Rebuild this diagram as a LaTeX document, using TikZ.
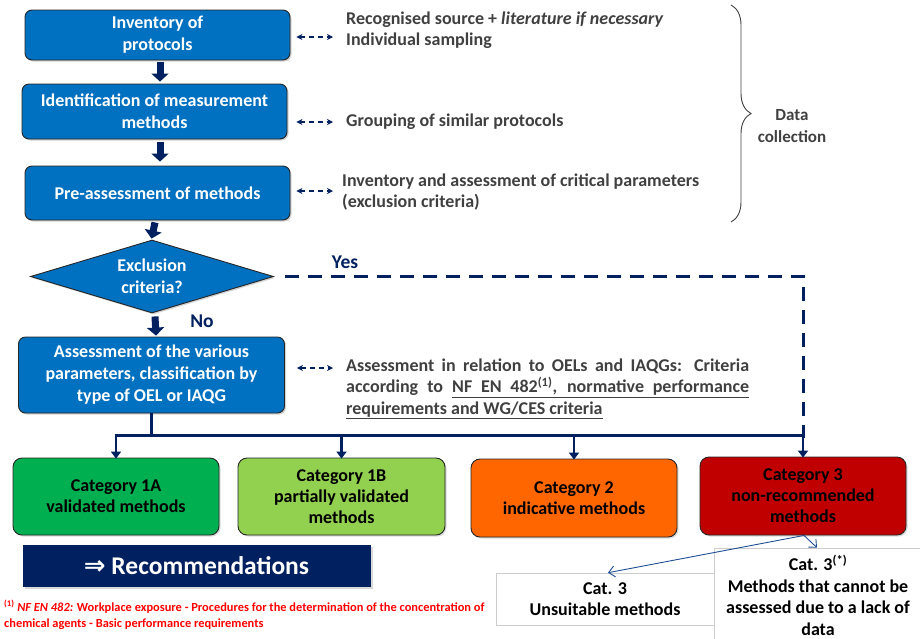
\documentclass[tikz,border=0pt]{standalone}
\usepackage{fontspec}
\setmainfont{Carlito}
\newfontfamily\dejavu{DejaVu Sans}
\usetikzlibrary{arrows.meta,shapes.geometric,decorations.pathreplacing,shadows}
\definecolor{boxblue}{HTML}{0070C0}
\definecolor{navy}{HTML}{002060}
\definecolor{txtgray}{HTML}{404040}
\definecolor{cia}{HTML}{00B050}
\definecolor{cib}{HTML}{92D050}
\definecolor{cii}{HTML}{FF6600}
\definecolor{ciii}{HTML}{C00000}
\definecolor{thinblue}{HTML}{1F4E96}
\definecolor{fnred}{HTML}{FF0000}
\begin{document}
\begin{tikzpicture}[x=1pt,y=-1pt,
  bluebox/.style={draw=black!85, line width=0.9pt, fill=boxblue, rounded corners=7pt,
    text=white, font=\fontsize{18}{22}\selectfont\bfseries, align=center, inner sep=0pt,
    drop shadow={opacity=0.35,shadow xshift=1.5pt,shadow yshift=-1.5pt}},
  catbox/.style={draw=black!85, line width=0.9pt, rounded corners=9pt,
    text=black, font=\fontsize{18}{21}\selectfont\bfseries, align=center, inner sep=0pt,
    drop shadow={opacity=0.3,shadow xshift=1.5pt,shadow yshift=-1.5pt}},
  whitebox/.style={draw=black!20, line width=0.6pt, fill=white, text=black,
    font=\fontsize{18}{21.5}\selectfont\bfseries, align=center, inner sep=0pt},
  sidetext/.style={text=txtgray, font=\fontsize{18}{21.5}\selectfont\bfseries, align=left, inner sep=0pt, anchor=west},
  blockarrow/.style={draw=navy, line width=7pt, -{Triangle[length=8pt,width=17pt]}},
  dasharrow/.style={draw=navy, line width=1.1pt, dash pattern=on 5pt off 4pt,
    {Stealth[length=6pt,width=6pt]}-{Stealth[length=6pt,width=6pt]}},
  busline/.style={draw=navy, line width=3pt},
  busarrow/.style={draw=navy, line width=2.2pt, -{Triangle[length=7pt,width=10pt]}},
  yesline/.style={draw=navy, line width=3pt, dash pattern=on 14pt off 9pt},
  thinarrow/.style={draw=thinblue, line width=0.9pt, -{Straight Barb[length=6pt,width=11pt]}},
  lbl/.style={text=navy, font=\fontsize{19.5}{22}\selectfont\bfseries, inner sep=0pt}
]
\useasboundingbox (0,0) rectangle (920,638);

% main flow boxes
\node[bluebox, minimum width=265pt, minimum height=50pt] (b1) at (157.5,35) {Inventory of\\protocols};
\node[bluebox, minimum width=265pt, minimum height=55pt] (b2) at (154.5,111.5) {Identification of measurement\\methods};
\node[bluebox, minimum width=265pt, minimum height=54pt] (b3) at (157.5,193) {Pre-assessment of methods};
\node[bluebox, shape=diamond, rounded corners=0pt, shape aspect=3.4, minimum width=243pt, minimum height=73pt] (dia) at (152,276.5) {Exclusion\\criteria?};
\node[bluebox, minimum width=266pt, minimum height=76pt] (b4) at (151.5,375) {Assessment of the various\\parameters, classification by\\type of OEL or IAQG};

% block arrows
\draw[blockarrow] ([xshift=2.5pt,yshift=-2pt]b1.south) -- ([xshift=5.5pt,yshift=2pt]b2.north);
\draw[blockarrow] ([xshift=5.5pt,yshift=-3pt]b2.south) -- ([xshift=2.5pt,yshift=4pt]b3.north);
\draw[blockarrow] ([xshift=-2.5pt,yshift=-2pt]b3.south) -- ([yshift=1pt]dia.north -| b4.south);
\draw[blockarrow] ([xshift=3pt,yshift=-3pt]dia.south) -- ([xshift=4.5pt,yshift=1pt]b4.north);

% labels
\node[lbl] (yes) at (345,262) {Yes};
\node[lbl] (no) at (202,321) {No};

% side texts
\node[sidetext] (t1) at (346,30) {Recognised source + \textit{literature if necessary}\\Individual sampling};
\node[sidetext] (t2) at (346,122) {Grouping of similar protocols};
\node[sidetext] (t3) at (342,192) {Inventory and assessment of critical parameters\\(exclusion criteria)};
\node[sidetext] (t4) at (346,389) {%
\makebox[403pt][s]{Assessment in relation to OELs and IAQGs: Criteria}\\
\makebox[403pt][s]{according to \underline{\makebox[297pt][s]{NF EN 482\textsuperscript{(1)}, normative performance}}}\\
\underline{requirements and WG/CES criteria}};

\coordinate (d1a) at ([xshift=6pt]b1.east);
\coordinate (d2a) at ([xshift=9pt]b2.east);
\coordinate (d3a) at ([xshift=6pt]b3.east);
\coordinate (d4a) at ([xshift=12pt]b4.east);
\draw[dasharrow] ([yshift=-2pt]d1a) -- ([xshift=-13pt,yshift=-2pt]d1a -| t1.west);
\draw[dasharrow] (d2a |- t2.west) -- ([xshift=-13pt]t2.west);
\draw[dasharrow] ([yshift=2pt]d3a) -- ([xshift=-9pt,yshift=2pt]d3a -| t3.west);
\draw[dasharrow] ([yshift=7pt]d4a) -- ([xshift=-13pt,yshift=7pt]d4a -| t4.west);

% brace
\coordinate (brt) at (731,5);
\coordinate (brb) at (731,222);
\draw[draw=txtgray, line width=0.9pt, decorate, decoration={brace, amplitude=20pt, aspect=0.5}] (brt) -- (brb);
\node[text=txtgray, font=\fontsize{17}{22}\selectfont\bfseries, align=center] (dc) at (792,126) {Data\\collection};

% categories
\node[catbox, fill=cia, minimum width=206pt, minimum height=77pt] (c1a) at (116,496.5) {Category 1A\\validated methods};
\node[catbox, fill=cib, minimum width=207pt, minimum height=77pt] (c1b) at (341.5,496.5) {Category 1B\\partially validated\\methods};
\node[catbox, fill=cii, minimum width=206pt, minimum height=78pt] (c2) at (574,498) {Category 2\\indicative methods};
\node[catbox, fill=ciii, minimum width=206pt, minimum height=78pt] (c3) at (803,496) {Category 3\\non-recommended\\methods};

% bus
\coordinate (bus1) at (116,435);
\coordinate (bus2) at (341.5,435);
\coordinate (bus3) at (574,435);
\coordinate (bus4) at (803,435);
\draw[yesline] ([xshift=11pt]dia.east) -- (dia.east -| bus4) -- ([yshift=-3pt]bus4);
\draw[busline] (b4.south) -- (b4.south |- bus1);
\draw[busline] ([xshift=-1.5pt]bus1) -- ([xshift=1.5pt]bus4);
\draw[busarrow] (bus1) -- ([yshift=-1pt]c1a.north);
\draw[busarrow] (bus2) -- ([yshift=-1pt]c1b.north);
\draw[busarrow] (bus3) -- ([yshift=-1pt]c2.north);
\draw[busarrow] (bus4) -- ([yshift=-1pt]c3.north);

% recommendations
\node[fill=navy, minimum width=348pt, minimum height=42pt, text=white, inner sep=0pt,
  font=\fontsize{25.5}{28}\selectfont\bfseries,
  drop shadow={opacity=0.3,shadow xshift=2pt,shadow yshift=-2pt}] (rec) at (196.5,566) {{\dejavu\fontsize{26}{28}\selectfont ⇒} Recommendations};

% sub categories
\node[whitebox, minimum width=207pt, minimum height=92pt] (r3) at (817.5,594) {};
\node[whitebox, minimum width=218pt, minimum height=52pt] (u3) at (605,599) {Cat. 3\\Unsuitable methods};
\node[font=\fontsize{18}{21.5}\selectfont\bfseries, align=center, inner sep=0pt] (r3t) at (818,595) {Cat. 3\textsuperscript{(*)}\\Methods that cannot be\\assessed due to a lack of\\data};
\draw[thinarrow] ([xshift=1pt]c3.south) -- ([xshift=3pt]u3.north);
\draw[thinarrow] ([xshift=1pt]c3.south) -- ([xshift=-0.5pt]r3.north);

% footnote
\node[anchor=north west, text=fnred, font=\fontsize{12.4}{16}\selectfont\bfseries, align=left, inner sep=0pt] (fn) at (4,600)
 {\textsuperscript{(1)} \textit{NF EN 482:} Workplace exposure - Procedures for the determination of the concentration of\\chemical agents - Basic performance requirements};
\end{tikzpicture}
\end{document}
